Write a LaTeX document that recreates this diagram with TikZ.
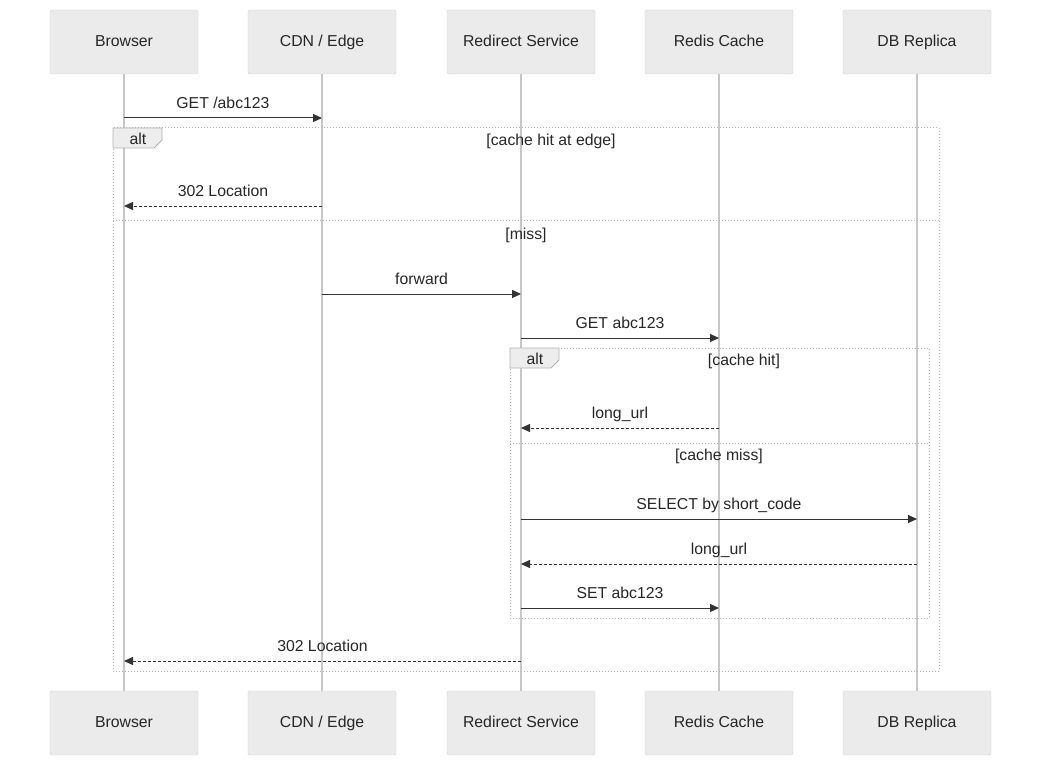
\documentclass[tikz,border=0pt]{standalone}
\usepackage{fontspec}
\setmainfont{Liberation Sans}
\usetikzlibrary{arrows.meta}
\begin{document}
\begin{tikzpicture}[x=1pt,y=-1pt,
  actor/.style={draw=black!18,fill=black!8,rounded corners=1.5pt,minimum width=148pt,minimum height=64pt,font=\fontsize{15.8}{18}\selectfont,text=black!85,inner sep=0pt,text height=11.5pt,text depth=3pt},
  life/.style={draw=black!22,line width=1.8pt},
  msg/.style={draw=black!80,line width=1pt,-{Triangle[length=9pt,width=8pt]}},
  reply/.style={msg,dash pattern=on 3pt off 2pt},
  lbl/.style={font=\fontsize{15.8}{18}\selectfont,text=black!85,inner sep=0pt,text height=11.5pt,text depth=3pt},
  frame/.style={draw=black!30,line width=1pt,dotted},
  tab/.style={draw=black!30,fill=black!7,line width=0.8pt}]
\useasboundingbox (0,0) rectangle (1050,773);
\foreach \n/\x/\t in {b/124/Browser,c/322/{CDN / Edge},r/521/Redirect Service,k/719/Redis Cache,d/917/DB Replica}{
  \node[actor] (\n t) at (\x,42) {\t};
  \node[actor] (\n b) at (\x,723) {\t};
  \draw[life] (\n t) -- (\n b);
}
% outer alt
\draw[frame] (113,128) rectangle (939,671);
\draw[frame] (113,220) -- (939,220);
\draw[tab] (113,128) -- (162,128) -- (162,140) -- (154,148) -- (113,148) -- cycle;
\node[lbl] (alt1) at (138,140) {alt};
\node[lbl] (g1) at (551,141.5) {[cache hit at edge]};
\node[lbl] (g2) at (526,235.5) {[miss]};
% inner alt
\draw[frame] (510,348) rectangle (929,618);
\draw[frame] (510,443) -- (929,443);
\draw[tab] (510,348) -- (559,348) -- (559,360) -- (551,368) -- (510,368) -- cycle;
\node[lbl] (alt2) at (535,360) {alt};
\node[lbl] (g3) at (744,361.5) {[cache hit]};
\node[lbl] (g4) at (719,456.5) {[cache miss]};
% messages
\foreach \y/\a/\b/\s/\t in {
  118/124/322/msg/{GET /abc123},
  206/322/124/reply/302 Location,
  294/322/521/msg/forward,
  338/521/719/msg/GET abc123,
  428/719/521/reply/long\_url,
  519/521/917/msg/SELECT by short\_code,
  564/917/521/reply/long\_url,
  608/521/719/msg/SET abc123,
  661/521/124/reply/302 Location}{
  \coordinate (s\y) at (\a,\y);
  \coordinate (e\y) at (\b,\y);
  \draw[\s] (s\y) -- (e\y);
  \node[lbl] (m\y) at ({(\a+\b)/2},\y-13.5) {\t};
}
\end{tikzpicture}
\end{document}
